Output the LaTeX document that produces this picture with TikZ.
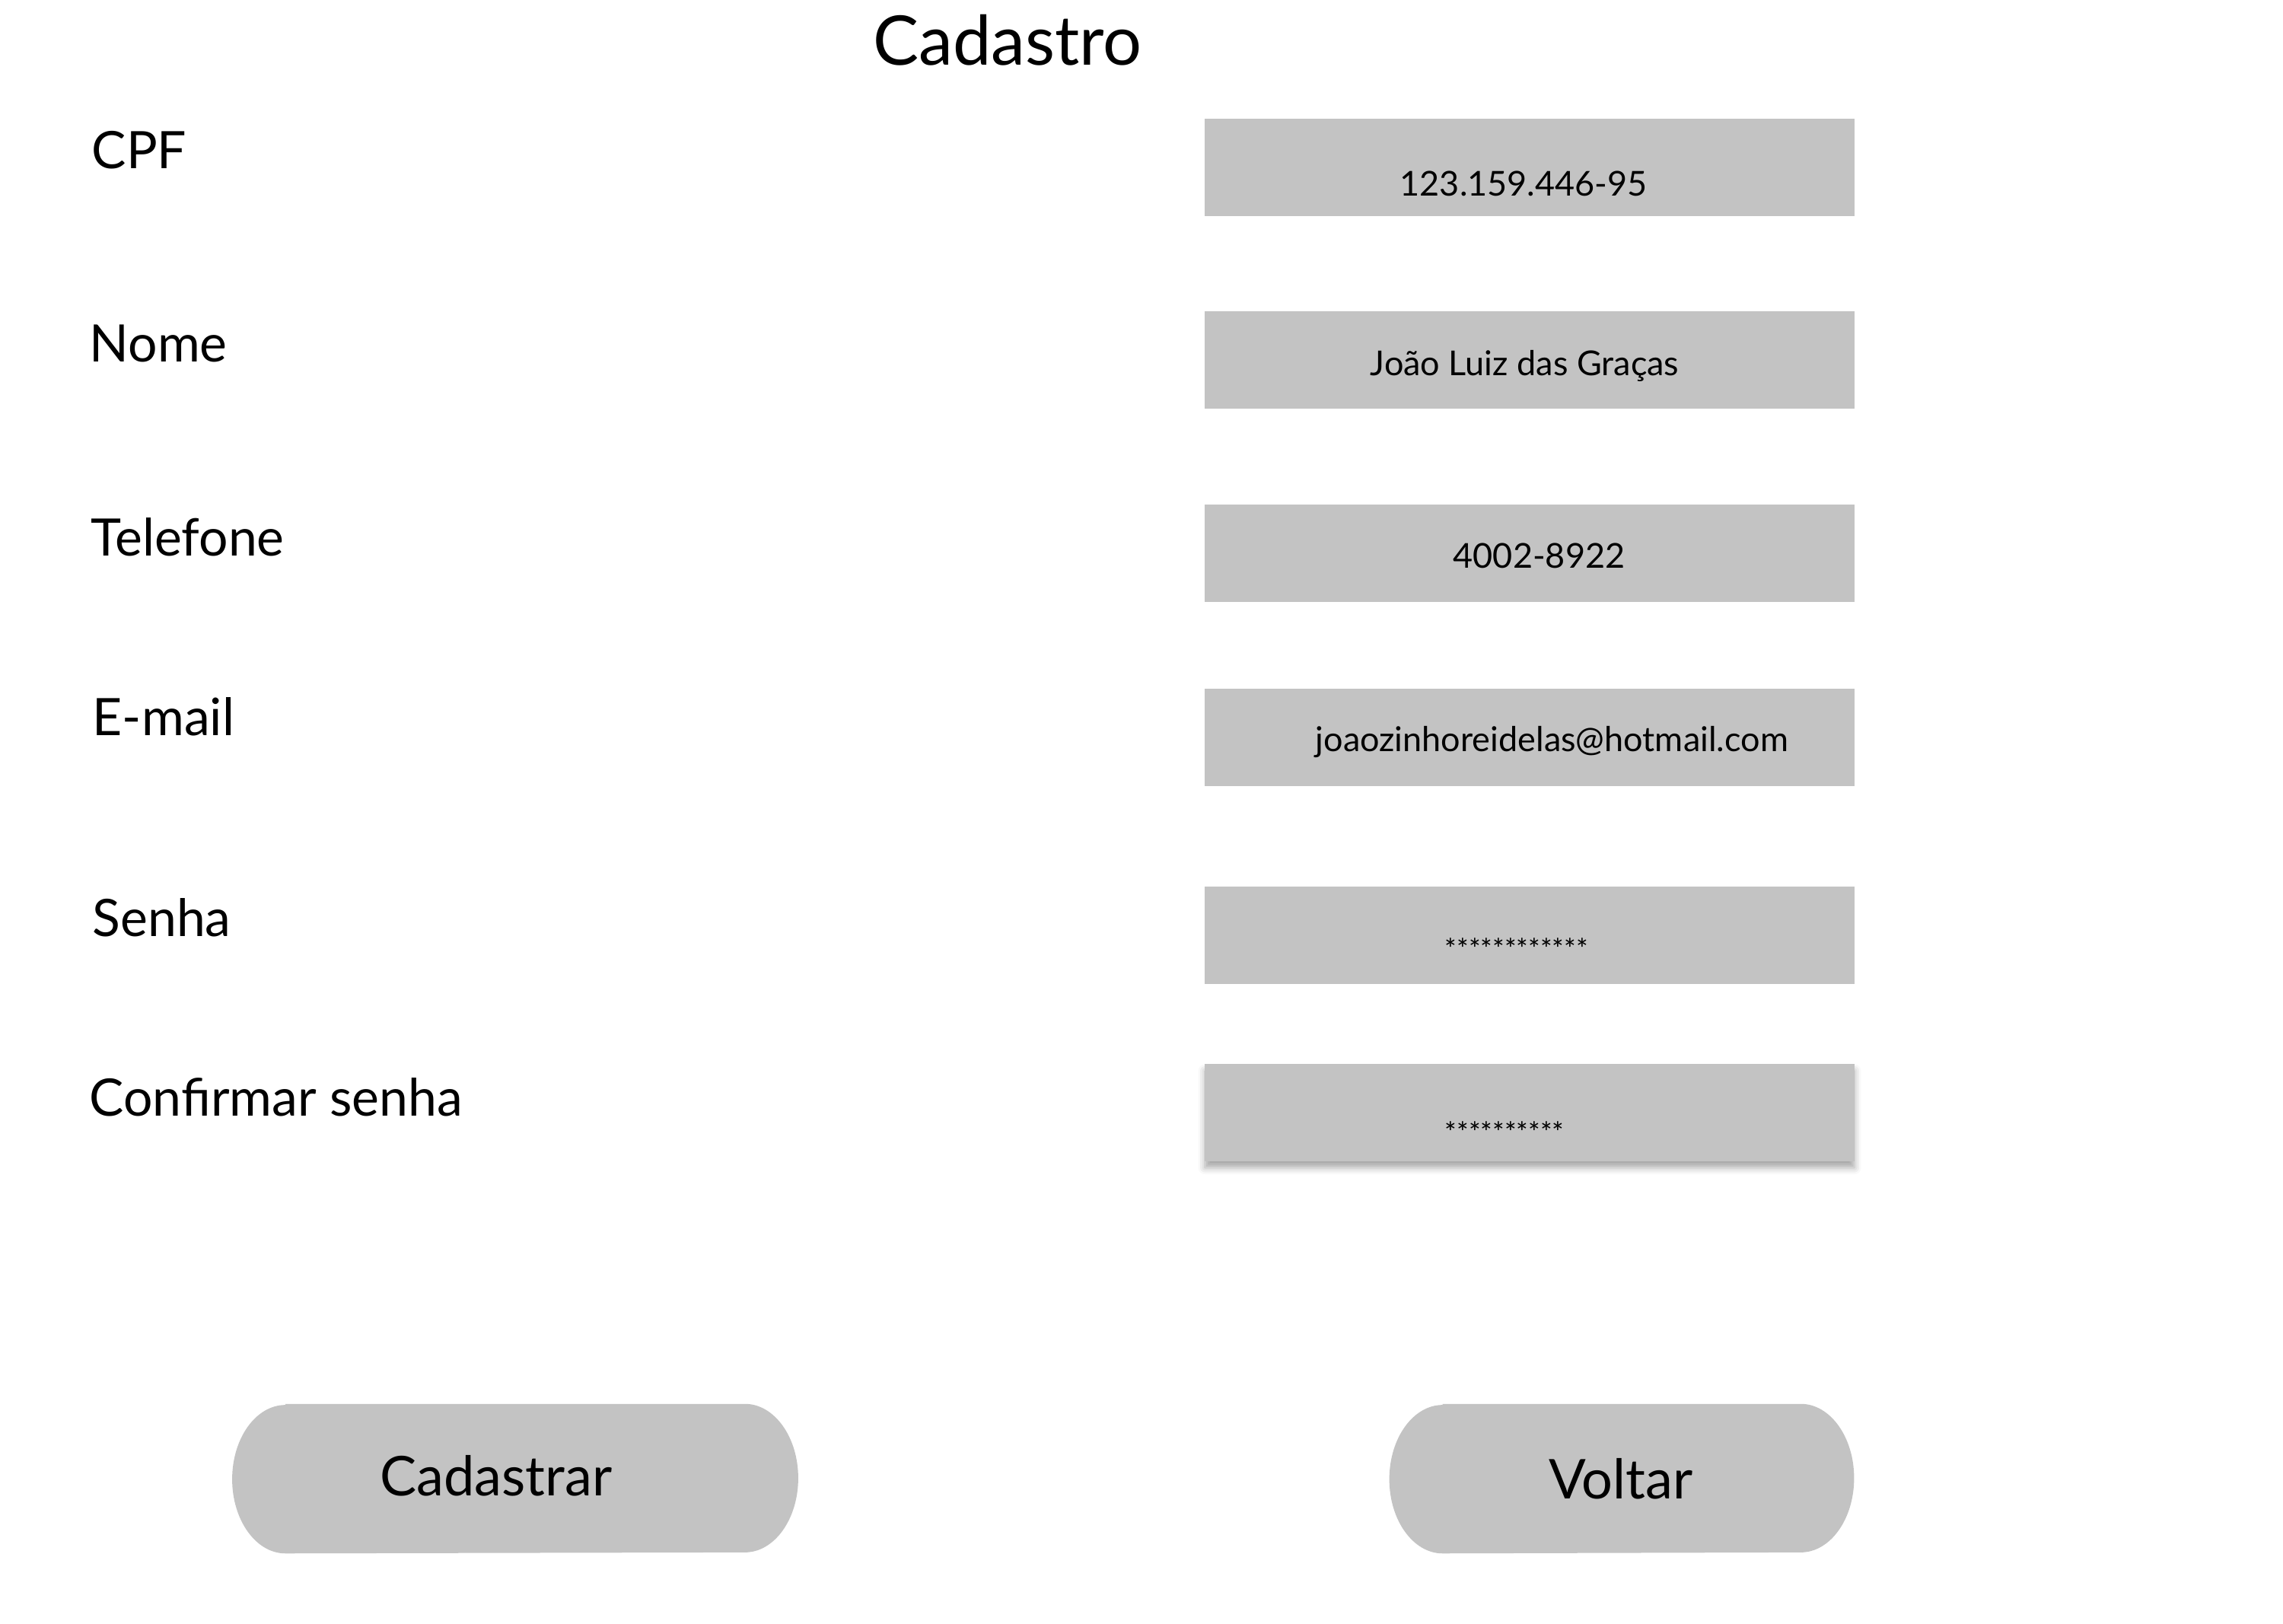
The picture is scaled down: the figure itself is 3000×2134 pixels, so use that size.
\documentclass[tikz,border=0pt]{standalone}
\usepackage{fontspec}
\setmainfont{Lato}
\usetikzlibrary{shadows.blur}
\definecolor{fieldgray}{RGB}{195,195,195}
% button with oval ends round an empty node
\newcommand{\pillfill}[1]{%
  \fill[fieldgray] ([xshift=0.7cm]#1.north west) -- ([xshift=-0.7cm]#1.north east)
    arc[start angle=90, end angle=-90, x radius=0.7cm, y radius=0.975cm]
    -- ([xshift=0.7cm]#1.south west)
    arc[start angle=270, end angle=90, x radius=0.7cm, y radius=0.975cm] -- cycle;}

\begin{document}
\begin{tikzpicture}[x=0.01cm, y=-0.01cm,
    fieldbox/.style={fill=fieldgray, minimum width=8.53cm, minimum height=1.27cm, inner sep=0pt},
    fieldname/.style={anchor=base west, inner sep=0pt, font=\fontsize{19.3}{22}\selectfont},
    entry/.style={anchor=base west, inner sep=0pt, font=\fontsize{12.8}{15}\selectfont},
    stars/.style={anchor=base west, inner sep=0pt, font=\fontsize{10.5}{12}\selectfont},
    pill/.style={minimum height=1.95cm, inner sep=0pt},
    pilltext/.style={anchor=base, inner sep=0pt, font=\fontsize{20.5}{24}\selectfont}]
    \useasboundingbox (0,0) rectangle (3000,2134);

    % title
    \node[anchor=base, inner sep=0pt, font=\fontsize{25.6}{30}\selectfont] (title) at (1324,86) {Cadastro};

    % labels on the left
    \node[fieldname] (lcpf)   at (120,222)  {CPF};
    \node[fieldname] (lnome)  at (117,476)  {Nome};
    \node[fieldname] (ltel)   at (119,731)  {Telefone};
    \node[fieldname] (lmail)  at (121,966)  {E-mail};
    \node[fieldname] (lsenha) at (121,1230) {Senha};
    \node[fieldname] (lconf)  at (117,1466) {Confirmar senha};

    % input boxes
    \node[fieldbox] (fcpf)   at (2010,220)  {};
    \node[fieldbox] (fnome)  at (2010,473)  {};
    \node[fieldbox] (ftel)   at (2010,727)  {};
    \node[fieldbox] (fmail)  at (2010,969)  {};
    \node[fieldbox] (fsenha) at (2010,1229) {};
    \node[fieldbox, blur shadow={shadow xshift=0pt, shadow yshift=-2.5pt, shadow blur radius=2.5pt, shadow opacity=35}] (fconf) at (2010,1462) {};

    % what was typed in them
    \node[entry] (tcpf)   at (1839,258)  {123.159.446-95};
    \node[entry] (tnome)  at (1800,494)  {João Luiz das Graças};
    \node[entry] (ttel)   at (1909,746)  {4002-8922};
    \node[entry] (tmail)  at (1728,987)  {joaozinhoreidelas@hotmail.com};
    \node[stars] (tsenha) at (1898,1260) {************};
    \node[stars] (tconf)  at (1898,1501) {**********};

    % buttons
    \node[pill, minimum width=7.42cm] (bcad)  at (677,1943)  {};
    \node[pill, minimum width=6.09cm] (bvolt) at (2131,1943) {};
    \pillfill{bcad}
    \pillfill{bvolt}
    \node[pilltext] (tcad)  at (652,1965)  {Cadastrar};
    \node[pilltext] (tvolt) at (2130,1969) {Voltar};
\end{tikzpicture}
\end{document}
